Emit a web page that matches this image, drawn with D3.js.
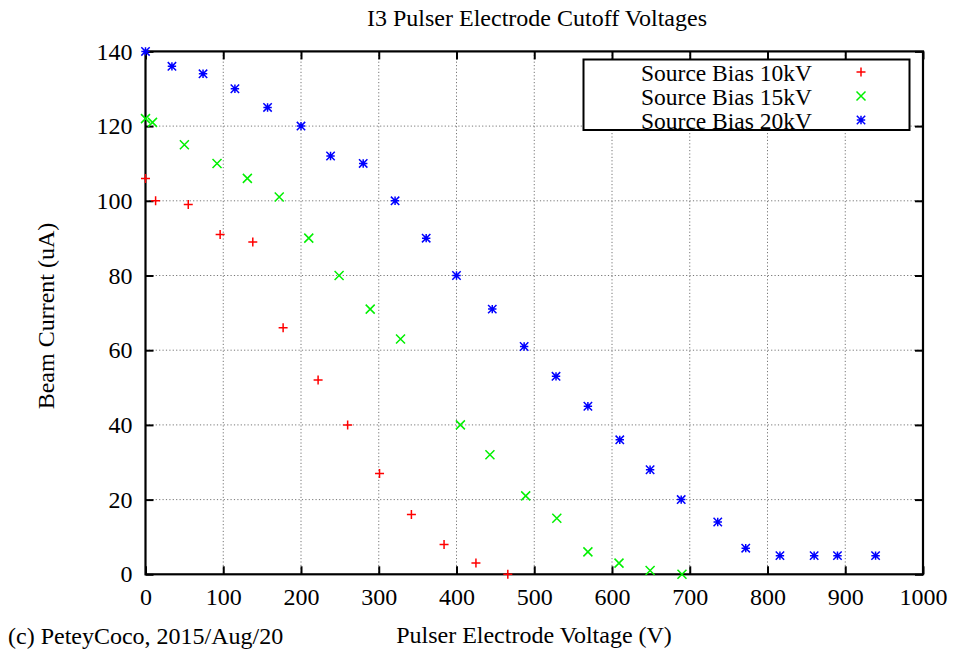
<!DOCTYPE html>
<html>
<head>
<meta charset="utf-8">
<script src="https://cdn.jsdelivr.net/npm/d3@7"></script>
<style>
  body { margin: 0; background: #fff; }
  svg { display: block; font-family: "Liberation Serif", "DejaVu Serif", serif; }
</style>
</head>
<body>
<svg id="chart" width="955" height="655"></svg>
<script>
// data
const bias10_x = [0, 13, 55, 96, 138, 177, 222, 260, 301, 342, 384, 425, 466];
const bias10_y = [106, 100, 99, 91, 89, 66, 52, 40, 27, 16, 8, 3, 0];

const bias15_x = [0, 9, 50, 92, 131, 172, 210, 249, 289, 328, 405, 443, 489, 529, 569, 609, 649, 690];
const bias15_y = [122, 121, 115, 110, 106, 101, 90, 80, 71, 63, 40, 32, 21, 15, 6, 3, 1, 0];

const bias20_x = [0, 34, 74, 115, 157, 200, 238, 280, 321, 361, 400, 446, 487, 528, 569, 610, 649, 689, 736, 772, 816, 860, 890, 939];
const bias20_y = [140, 136, 134, 130, 125, 120, 112, 110, 100, 90, 80, 71, 61, 53, 45, 36, 28, 20, 14, 7, 5, 5, 5, 5];

const seriesNames = ["Source Bias 10kV", "Source Bias 15kV", "Source Bias 20kV"];
const seriesColors = ["#ff0000", "#00f000", "#0000ff"];
const seriesMarks = ["plus", "cross", "star"];

const xTicks = [0, 100, 200, 300, 400, 500, 600, 700, 800, 900, 1000];
const yTicks = [0, 20, 40, 60, 80, 100, 120, 140];

const titleText = "I3 Pulser Electrode Cutoff Voltages";
const xLabel = "Pulser Electrode Voltage (V)";
const yLabel = "Beam Current (uA)";
const credit = "(c) PeteyCoco, 2015/Aug/20";

function zip(xs, ys) {
    return xs.map(function (x, i) { return [x, ys[i]]; });
}
const allSeries = [zip(bias10_x, bias10_y), zip(bias15_x, bias15_y), zip(bias20_x, bias20_y)];

const svg = d3.select("#chart");
const plotL = 145.5, plotR = 923, plotT = 51.4, plotB = 574.3;
const fs = "24px";

const xScale = d3.scaleLinear().domain([0, 1000]).range([plotL, plotR]);
const yScale = d3.scaleLinear().domain([0, 140]).range([plotB, plotT]);

// grid
const grid = svg.append("g");
grid.selectAll(".gx").data(xTicks.slice(1, -1)).enter().append("line")
    .attr("x1", d => xScale(d)).attr("x2", d => xScale(d))
    .attr("y1", plotT).attr("y2", plotB)
    .attr("stroke", "#777").attr("stroke-width", 1).attr("stroke-dasharray", "1.2,2.2");
grid.selectAll(".gy").data(yTicks.slice(1, -1)).enter().append("line")
    .attr("x1", plotL).attr("x2", plotR)
    .attr("y1", d => yScale(d)).attr("y2", d => yScale(d))
    .attr("stroke", "#777").attr("stroke-width", 1).attr("stroke-dasharray", "1.2,2.2");

// axes (ticks drawn inward, mirrored on top/right)
const tickLen = 8;
const axB = svg.append("g").attr("transform", "translate(0," + plotB + ")")
    .call(d3.axisBottom(xScale).tickValues(xTicks).tickFormat(d3.format("d"))
        .tickSizeInner(-tickLen).tickSizeOuter(0).tickPadding(14));
const axL = svg.append("g").attr("transform", "translate(" + plotL + ",0)")
    .call(d3.axisLeft(yScale).tickValues(yTicks).tickFormat(d3.format("d"))
        .tickSizeInner(-tickLen).tickSizeOuter(0).tickPadding(13));
const axT = svg.append("g").attr("transform", "translate(0," + plotT + ")")
    .call(d3.axisTop(xScale).tickValues(xTicks).tickSizeInner(-tickLen).tickSizeOuter(0).tickFormat(""));
const axR = svg.append("g").attr("transform", "translate(" + plotR + ",0)")
    .call(d3.axisRight(yScale).tickValues(yTicks).tickSizeInner(-tickLen).tickSizeOuter(0).tickFormat(""));
[axB, axL, axT, axR].forEach(function (a) {
    a.select(".domain").remove();
    a.selectAll("line").attr("stroke", "#000").attr("stroke-width", 2);
    a.selectAll("text").style("font-family", "Liberation Serif").style("font-size", fs).attr("fill", "#000");
});

svg.append("rect")
    .attr("x", plotL).attr("y", plotT)
    .attr("width", plotR - plotL).attr("height", plotB - plotT)
    .attr("fill", "none").attr("stroke", "#000").attr("stroke-width", 2.2);

// markers
function markPath(kind, s) {
    const p = "M" + (-s) + ",0H" + s + "M0," + (-s) + "V" + s;
    const x = "M" + (-s) + "," + (-s) + "L" + s + "," + s + "M" + (-s) + "," + s + "L" + s + "," + (-s);
    if (kind === "plus") return p;
    if (kind === "cross") return x;
    return p + x;
}

allSeries.forEach(function (data, i) {
    svg.append("g").selectAll("path").data(data).enter().append("path")
        .attr("transform", d => "translate(" + xScale(d[0]) + "," + yScale(d[1]) + ")")
        .attr("d", markPath(seriesMarks[i], i === 2 ? 4.2 : 4.5))
        .attr("fill", "none")
        .attr("stroke", seriesColors[i])
        .attr("stroke-width", 1.5);
});

// legend
const lg = svg.append("g");
lg.append("rect")
    .attr("x", 583.5).attr("y", 59.5).attr("width", 326).attr("height", 70.5)
    .attr("fill", "#fff").attr("stroke", "#000").attr("stroke-width", 2);
seriesNames.forEach(function (name, i) {
    const yy = 73 + i * 24;
    lg.append("text").attr("x", 812).attr("y", yy).attr("dy", "0.33em")
        .attr("text-anchor", "end").style("font-size", "23.5px").text(name);
    lg.append("path")
        .attr("transform", "translate(861," + (yy - 1) + ")")
        .attr("d", markPath(seriesMarks[i], i === 2 ? 4.2 : 4.5))
        .attr("fill", "none").attr("stroke", seriesColors[i]).attr("stroke-width", 1.5);
});

// labels
svg.append("text").attr("x", 537).attr("y", 26).attr("text-anchor", "middle")
    .style("font-size", fs).text(titleText);
svg.append("text").attr("x", 534).attr("y", 643).attr("text-anchor", "middle")
    .style("font-size", fs).text(xLabel);
svg.append("text").attr("transform", "translate(54,316)rotate(-90)").attr("text-anchor", "middle")
    .style("font-size", fs).text(yLabel);
svg.append("text").attr("x", 8).attr("y", 644)
    .style("font-size", fs).text(credit);
</script>
</body>
</html>
